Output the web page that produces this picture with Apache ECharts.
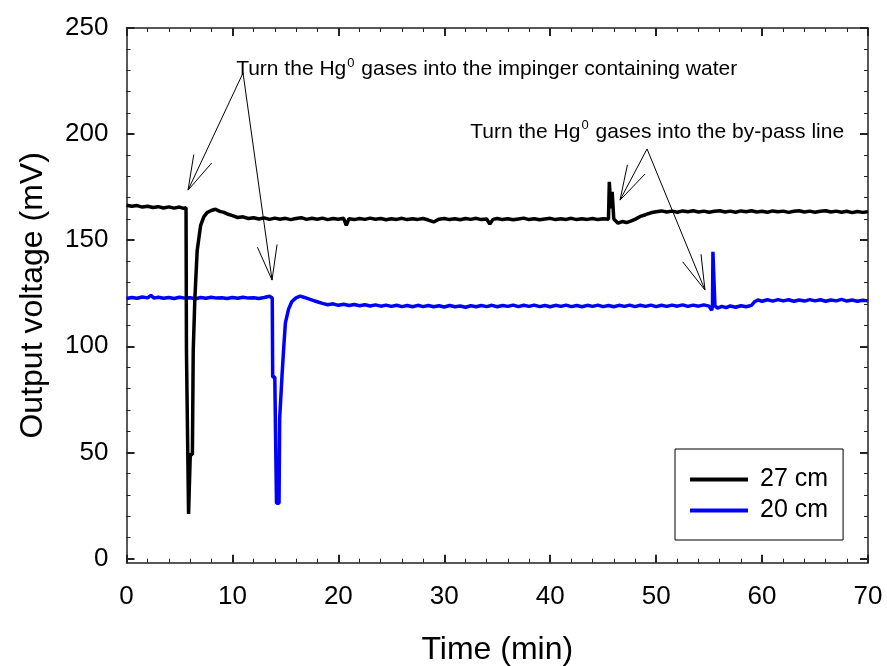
<!DOCTYPE html>
<html>
<head>
<meta charset="utf-8">
<script src="https://cdn.jsdelivr.net/npm/echarts@6/dist/echarts.min.js"></script>
<style>
  html, body { margin: 0; padding: 0; background: #fff; }
  #chart { width: 887px; height: 666px; }
</style>
</head>
<body>
<div id="chart"></div>
<script>
// Axis ticks
const timeTicks = [0, 10, 20, 30, 40, 50, 60, 70];
const voltTicks = [0, 50, 100, 150, 200, 250];
const voltMinorTicks = [10, 20, 30, 40, 60, 70, 80, 90, 110, 120, 130, 140,
  160, 170, 180, 190, 210, 220, 230, 240];

// Series names
const seriesNames = ['27 cm', '20 cm'];

// Output voltage (mV) against time (min), detector at 27 cm
const trace27 = [
  [0,166.5],[0.5,166.0],[1,166.3],[1.5,165.6],[2,166.0],[2.5,165.4],[3,165.8],[3.5,165.2],
  [4,165.7],[4.5,165.1],[5,165.6],[5.4,165.0],[5.62,165.3],
  [5.66,98],[5.82,98],[5.86,21],[5.98,21],[6.02,49],[6.22,49],[6.3,98],[6.45,122],
  [6.67,145],[7,157],[7.3,161],[7.6,163],[8,164],[8.4,164.6],[8.8,163.6],[9.2,163.1],
  [9.6,162.2],[10,161.6],[10.5,160.7],
  [11,161.0],[11.5,160.2],[12,160.6],[12.5,160.0],[13,160.5],[13.5,159.8],[14,160.4],
  [14.5,159.9],[15,160.3],[15.5,159.7],[16,160.2],[16.5,160.6],[17,159.8],[17.5,160.3],
  [18,159.9],[18.5,160.4],[19,159.7],[19.5,160.2],[20,159.9],[20.5,160.3],[20.75,157.0],
  [21,160.1],[21.5,159.7],[22,160.2],[22.5,159.8],[23,160.4],[23.5,159.9],[24,160.2],
  [24.5,159.6],[25,160.1],[25.5,159.8],[26,160.3],[26.5,159.7],[27,160.1],[27.5,159.8],
  [28,160.2],[28.5,159.5],[29,158.6],[29.5,159.9],[30,160.2],[30.5,159.7],[31,160.1],
  [31.5,159.6],[32,160.2],[32.5,159.8],[33,160.3],[33.5,159.7],[34,160.0],[34.3,157.6],
  [34.6,159.8],[35,160.2],[35.5,159.7],[36,160.1],[36.5,159.6],[37,160.0],[37.5,160.4],
  [38,159.7],[38.5,160.1],[39,159.6],[39.5,160.0],[40,160.3],[40.5,159.7],[41,160.1],
  [41.5,159.8],[42,160.3],[42.5,159.7],[43,160.1],[43.5,159.8],[44,160.2],[44.5,159.7],
  [45,160.1],[45.5,159.9],
  [45.58,177.5],[45.72,165],[45.85,172.8],[46.0,160],[46.4,158.0],[46.8,158.8],[47.2,158.3],
  [47.6,159.0],[48,159.8],[48.5,161.2],[49,162.0],[49.5,162.9],[50,163.4],[50.5,163.8],
  [51,163.3],[51.5,163.7],[52,163.2],[52.5,163.8],[53,163.4],[53.5,163.9],[54,163.3],
  [54.5,163.7],[55,163.2],[55.5,163.6],[56,163.9],[56.5,163.3],[57,163.7],[57.5,163.2],
  [58,163.8],[58.5,163.4],[59,163.9],[59.5,163.3],[60,163.6],[60.5,163.2],[61,163.8],
  [61.5,163.4],[62,163.7],[62.5,163.1],[63,163.6],[63.5,163.9],[64,163.3],[64.5,163.7],
  [65,163.2],[65.5,163.6],[66,163.9],[66.5,163.3],[67,163.7],[67.5,163.2],[68,163.6],
  [68.5,163.0],[69,163.5],[69.5,163.1],[70,163.4]
];

// Output voltage (mV) against time (min), detector at 20 cm
const trace20 = [
  [0,122.5],[0.5,123.0],[1,122.6],[1.5,123.2],[2,122.8],[2.3,124.0],[2.6,122.7],[3,123.1],
  [3.5,122.6],[4,123.0],[4.5,122.5],[5,123.1],[5.5,122.7],[6,122.9],[6.5,122.4],[7,123.0],
  [7.5,122.6],[8,123.1],[8.5,122.7],[9,122.9],[9.5,122.5],[10,123.0],[10.5,122.6],[11,123.1],
  [11.5,122.7],[12,122.9],[12.5,122.5],[13,123.0],[13.5,123.6],[13.76,122.8],
  [13.8,85.5],[14.0,85.5],[14.05,66.5],[14.12,66.5],[14.16,26],[14.4,26],[14.46,66],
  [14.62,66],[14.68,86],[14.85,100],[15,111],[15.3,117.5],[15.6,121],[16,122.8],[16.4,123.6],
  [16.8,123.0],[17.2,122.3],[17.6,121.6],[18,121.0],[18.5,120.2],[19,119.6],[19.5,120.0],
  [20,119.3],[20.5,119.8],[21,119.2],[21.5,119.7],[22,119.1],[22.5,119.6],[23,119.0],
  [23.5,119.5],[24,118.9],[24.5,119.4],[25,118.8],[25.5,119.3],[26,118.7],[26.5,119.2],
  [27,118.6],[27.5,119.3],[28,118.7],[28.5,119.2],[29,118.6],[29.5,119.1],[30,118.5],
  [30.5,119.2],[31,118.6],[31.5,119.0],[32,118.4],[32.5,119.1],[33,118.6],[33.5,119.2],
  [34,118.7],[34.5,119.3],[35,118.6],[35.5,119.2],[36,118.8],[36.5,119.4],[37,118.7],
  [37.5,119.3],[38,118.8],[38.5,119.4],[39,118.7],[39.5,119.2],[40,118.6],[40.5,119.3],
  [41,118.8],[41.5,119.4],[42,118.7],[42.5,119.2],[43,118.6],[43.5,119.3],[44,118.8],
  [44.5,119.4],[45,118.7],[45.5,119.2],[46,118.6],[46.5,119.3],[47,118.8],[47.5,119.4],
  [48,118.7],[48.5,119.3],[49,118.8],[49.5,119.4],[50,118.7],[50.5,119.3],[51,118.8],
  [51.5,119.4],[52,118.9],[52.5,119.5],[53,118.8],[53.5,119.4],[54,118.9],[54.5,119.5],
  [55,118.9],[55.25,117.0],[55.32,119],[55.36,144.5],[55.5,144.5],[55.55,119],[55.8,118.0],
  [56.2,118.8],[56.6,118.2],[57,119.0],[57.5,118.4],[58,119.1],[58.5,118.6],[59,119.3],
  [59.3,121.0],[59.6,121.8],[60,121.2],[60.5,121.9],[61,121.3],[61.5,122.0],[62,121.4],
  [62.5,121.9],[63,121.2],[63.5,121.8],[64,121.3],[64.5,122.0],[65,121.4],[65.5,121.9],
  [66,121.2],[66.5,121.8],[67,121.4],[67.5,122.1],[68,121.3],[68.5,121.8],[69,121.2],
  [69.5,121.7],[70,121.4]
];

// Notes: label text, label centre, arrow origin and arrow tips (data coordinates)
const noteTexts = [
  'Turn the Hg{sup|0} gases into the impinger containing water',
  'Turn the Hg{sup|0} gases into the by-pass line'
];
const noteLabelAt = [[34.0, 230.4], [50.1, 200.8]];
const noteArrowFrom = [[11.0, 228.8], [49.14, 193.0]];
const noteArrowTips = [
  [[5.81, 173.6], [13.74, 131.2]],
  [[46.59, 168.9], [54.61, 126.5]]
];

const FONT = 'Liberation Sans, Arial, sans-serif';
const AXIS_COLOR = '#222';

const chart = echarts.init(document.getElementById('chart'), null, { renderer: 'canvas' });

function xAxisDef(pos, withLabels) {
  return {
    type: 'value', position: pos, min: 0, max: 70, interval: 10,
    axisLine: { show: true, onZero: false, lineStyle: { color: AXIS_COLOR, width: 1.5 } },
    axisTick: { show: true, inside: true, length: 8, lineStyle: { color: AXIS_COLOR, width: 2 } },
    minorTick: { show: true, splitNumber: 5, length: 4, lineStyle: { color: AXIS_COLOR, width: 1 } },
    axisLabel: withLabels ? {
      show: true, margin: 21, fontSize: 26, color: '#000', fontFamily: FONT,
      customValues: timeTicks
    } : { show: false },
    splitLine: { show: false },
    name: withLabels ? 'Time (min)' : '',
    nameLocation: 'middle', nameGap: 71,
    nameTextStyle: { fontSize: 32, color: '#000', fontFamily: FONT }
  };
}

function yAxisDef(pos, ticks, major, withLabels) {
  return {
    type: 'value', position: pos, min: -2, max: 250,
    axisLine: { show: major, onZero: false, lineStyle: { color: AXIS_COLOR, width: 1.5 } },
    axisTick: {
      show: true, inside: true, length: major ? 8 : 4, customValues: ticks,
      lineStyle: { color: AXIS_COLOR, width: major ? 2 : 1 }
    },
    axisLabel: withLabels ? {
      show: true, margin: 18, fontSize: 26, color: '#000', fontFamily: FONT,
      customValues: voltTicks
    } : { show: false },
    splitLine: { show: false },
    name: withLabels ? 'Output voltage (mV)' : '',
    nameLocation: 'middle', nameGap: 77, nameRotate: 90,
    nameTextStyle: { fontSize: 32, color: '#000', fontFamily: FONT }
  };
}

chart.setOption({
  animation: false,
  backgroundColor: '#fff',
  grid: {
    left: 126.5, right: 19, top: 28, bottom: 103.3,
    containLabel: false, outerBoundsMode: 'none'
  },
  xAxis: [xAxisDef('bottom', true), xAxisDef('top', false)],
  yAxis: [
    yAxisDef('left', voltTicks, true, true),
    yAxisDef('left', voltMinorTicks, false, false),
    yAxisDef('right', voltTicks, true, false),
    yAxisDef('right', voltMinorTicks, false, false)
  ],
  legend: {
    orient: 'vertical', left: 675, top: 449,
    data: seriesNames,
    icon: 'rect',
    backgroundColor: '#fff',
    borderColor: '#000', borderWidth: 1,
    padding: [18, 15, 17, 15],
    itemWidth: 58, itemHeight: 4, itemGap: 6,
    textStyle: { fontSize: 25, color: '#000', fontFamily: FONT, padding: [0, 0, 0, 7] }
  },
  series: [
    {
      name: seriesNames[0], type: 'line', data: trace27, xAxisIndex: 0, yAxisIndex: 0,
      symbol: 'none', lineStyle: { color: '#000', width: 3.5 }, itemStyle: { color: '#000' },
      z: 3
    },
    {
      name: seriesNames[1], type: 'line', data: trace20, xAxisIndex: 0, yAxisIndex: 0,
      symbol: 'none', lineStyle: { color: '#0000ff', width: 3.5 }, itemStyle: { color: '#0000ff' },
      z: 2
    }
  ]
});

// Annotation arrows and labels, placed through the chart's own coordinate system
function toPx(p) {
  return chart.convertToPixel({ xAxisIndex: 0, yAxisIndex: 0 }, p);
}

const graphics = [];
const HEAD_LEN = 36;
const HEAD_ANGLE = 16 * Math.PI / 180;

noteTexts.forEach(function (txt, i) {
  const c = toPx(noteLabelAt[i]);
  graphics.push({
    type: 'text', x: c[0], y: c[1], z: 10,
    style: {
      text: txt, align: 'center', verticalAlign: 'middle',
      fontSize: 21, fontFamily: FONT, fill: '#000', lineHeight: 26,
      rich: { sup: { fontSize: 13, fontFamily: FONT, fill: '#000', verticalAlign: 'top', lineHeight: 26, padding: [0, 1, 12, 1] } }
    }
  });
  const from = toPx(noteArrowFrom[i]);
  noteArrowTips[i].forEach(function (tipData) {
    const tip = toPx(tipData);
    graphics.push({
      type: 'polyline', z: 10, silent: true,
      shape: { points: [from, tip] },
      style: { stroke: '#000', lineWidth: 1, fill: null }
    });
    const dx = from[0] - tip[0], dy = from[1] - tip[1];
    const len = Math.sqrt(dx * dx + dy * dy);
    const ux = dx / len, uy = dy / len;
    function arm(a) {
      const ca = Math.cos(a), sa = Math.sin(a);
      return [tip[0] + HEAD_LEN * (ux * ca - uy * sa), tip[1] + HEAD_LEN * (ux * sa + uy * ca)];
    }
    graphics.push({
      type: 'polyline', z: 10, silent: true,
      shape: { points: [arm(HEAD_ANGLE), tip, arm(-HEAD_ANGLE)] },
      style: { stroke: '#000', lineWidth: 1, fill: null }
    });
  });
});

chart.setOption({ graphic: graphics });
</script>
</body>
</html>
